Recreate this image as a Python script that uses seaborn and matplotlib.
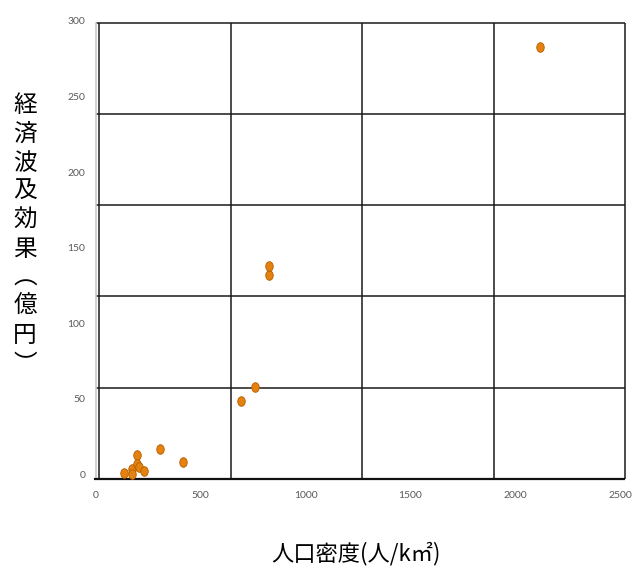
import numpy as np
import pandas as pd
import matplotlib
matplotlib.use("Agg")
import matplotlib.pyplot as plt
import seaborn as sns
from matplotlib.path import Path
from matplotlib.transforms import Affine2D

# ---- data ----
density = [135, 175, 175, 198, 198, 208, 230, 305, 418, 693, 761, 827, 827, 2118]
effect = [0.7, 3.3, 0.2, 12.8, 6.6, 4.6, 2.4, 16.5, 8.3, 48.3, 57.8, 131.7, 137.7, 282.8]
x_ticks = [0, 500, 1000, 1500, 2000, 2500]
y_ticks = [0, 50, 100, 150, 200, 250, 300]
x_label = "人口密度(人/k㎡)"
y_label = "経済波及効果(億円)"

df = pd.DataFrame({"density": density, "effect": effect})

sns.set_theme(style="white")
plt.rcParams["font.family"] = ["Lato", "DejaVu Sans"]

fig = plt.figure(figsize=(6.35, 5.69), dpi=100)
ax = fig.add_axes([95.7 / 635, 90 / 569, 530 / 635, 458.8 / 569])

# ellipse marker (slightly taller than wide)
ell = Path.unit_circle().transformed(Affine2D().scale(0.78, 1.0))

sns.scatterplot(data=df, x="density", y="effect", ax=ax, marker=ell, s=48,
                color="#E5820F", edgecolor="#B35F00", linewidth=0.6, zorder=5)

ax.set_xlim(0, 2526)
ax.set_ylim(-3.1, 300.5)

# box grid (not aligned with tick labels, as in the original)
grid_x = [17, 645, 1271, 1897, 2524]
grid_y = [57.3, 117.7, 178.1, 238.5, 298.9]
ax.vlines(grid_x, -3.1, 298.9, color="#1a1a1a", lw=1.1, zorder=2)
ax.hlines(grid_y, 0, 2524, color="#1a1a1a", lw=1.1, zorder=2)
ax.hlines([-3.1], -7, 2524, color="#111111", lw=1.6, zorder=3, clip_on=False)

for s in ["top", "right", "bottom"]:
    ax.spines[s].set_visible(False)
ax.spines["left"].set_color("#C8C8C8")
ax.spines["left"].set_linewidth(1.2)
ax.spines["left"].set_bounds(-3.1, 298.9)

ax.set_xticks(x_ticks)
ax.set_yticks(y_ticks)
ax.set_xticklabels([str(v) for v in x_ticks])
ax.set_yticklabels([str(v) for v in y_ticks])
ax.tick_params(axis="both", length=0, labelsize=7.5, labelcolor="#595959")
ax.tick_params(axis="x", pad=9)
ax.tick_params(axis="y", pad=7.5)
ax.set_xlabel("")
ax.set_ylabel("")
ax.grid(False)

cjk = ["Noto Sans CJK JP", "DejaVu Sans"]
fig.text(356 / 635, 1 - 554 / 569, x_label, ha="center", va="center",
         fontsize=16, family=cjk, color="#000000")

vert = y_label.replace("(", "︵").replace(")", "︶")
fig.text(25 / 635, 1 - 235 / 569, "\n".join(vert), ha="center", va="center",
         fontsize=17, family=cjk, color="#000000", linespacing=1.32)

fig.savefig("out.png", dpi=100)
